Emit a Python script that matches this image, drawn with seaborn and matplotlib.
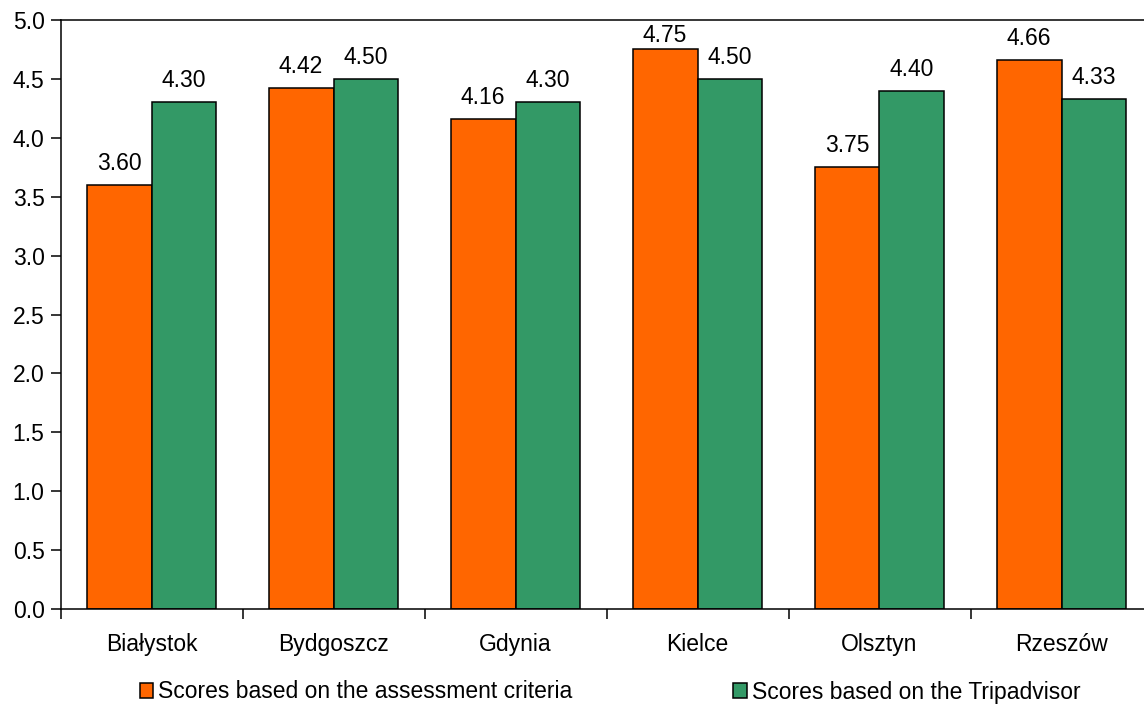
import matplotlib
matplotlib.use("Agg")
import matplotlib.pyplot as plt
import seaborn as sns
import pandas as pd
from matplotlib.ticker import FormatStrFormatter, MultipleLocator

cities = ["Białystok", "Bydgoszcz", "Gdynia", "Kielce", "Olsztyn", "Rzeszów"]
criteria_scores = [3.60, 4.42, 4.16, 4.75, 3.75, 4.66]
tripadvisor_scores = [4.30, 4.50, 4.30, 4.50, 4.40, 4.33]
series_names = ["Scores based on the assessment criteria",
                "Scores based on the Tripadvisor"]
series_colors = ["#FF6600", "#339966"]

df = pd.DataFrame({
    "city": cities * 2,
    "score": criteria_scores + tripadvisor_scores,
    "series": [series_names[0]] * len(cities) + [series_names[1]] * len(cities),
})

sns.set_style("ticks")
plt.rcParams["font.family"] = ["Liberation Sans", "DejaVu Sans"]
plt.rcParams["font.size"] = 16.5
for key in ["text.color", "axes.labelcolor", "xtick.color", "ytick.color",
            "axes.edgecolor"]:
    plt.rcParams[key] = "black"

fig = plt.figure(figsize=(11.44, 7.05), dpi=100)
ax = fig.add_axes([60.5 / 1144, 1 - 609 / 705, 1092 / 1144, 589 / 705])

sns.barplot(data=df, x="city", y="score", hue="series", order=cities,
            hue_order=series_names, palette=series_colors, width=0.714,
            gap=0, edgecolor="black", linewidth=1.1, saturation=1,
            errorbar=None, ax=ax)

handles, labels = ax.get_legend_handles_labels()
ax.get_legend().remove()

# value labels above each bar, kept inside the plotting area
px = 5.0 / 589
for container in ax.containers:
    for bar in container:
        v = bar.get_height()
        y = min(v + 15 * px, 4.815)
        ax.text(bar.get_x() + bar.get_width() / 2, y, f"{v:.2f}",
                ha="center", va="baseline", fontsize=16.5, color="black")

ax.set_ylim(0, 5.0)
ax.set_xlim(-0.5, len(cities) - 0.5)
ax.yaxis.set_major_locator(MultipleLocator(0.5))
ax.yaxis.set_major_formatter(FormatStrFormatter("%.1f"))
ax.tick_params(axis="y", length=7, width=1.1, pad=4.5, labelsize=16.5,
               direction="out", color="black", labelcolor="black")

# tick marks on category boundaries, labels at category centres
ax.set_xticks([i - 0.5 for i in range(len(cities) + 1)])
ax.set_xticklabels([])
ax.set_xticks(range(len(cities)), minor=True)
ax.set_xticklabels(cities, minor=True)
ax.tick_params(axis="x", which="major", length=7, width=1.1, direction="out",
               color="black")
ax.tick_params(axis="x", which="minor", length=0, pad=17, labelsize=16.5,
               labelcolor="black")

ax.set_xlabel("")
ax.set_ylabel("")
for side in ["left", "bottom", "top", "right"]:
    ax.spines[side].set_visible(True)
    ax.spines[side].set_linewidth(1.1)
    ax.spines[side].set_color("black")

fig.legend(handles, labels, loc="center", bbox_to_anchor=(610 / 1144, 1 - 692 / 705),
           ncol=2, frameon=False, fontsize=16.5, handlelength=0.6,
           handleheight=0.6, handletextpad=0.22, columnspacing=7.0,
           borderpad=0, borderaxespad=0, labelcolor="black")

fig.savefig("out.png", dpi=100)
